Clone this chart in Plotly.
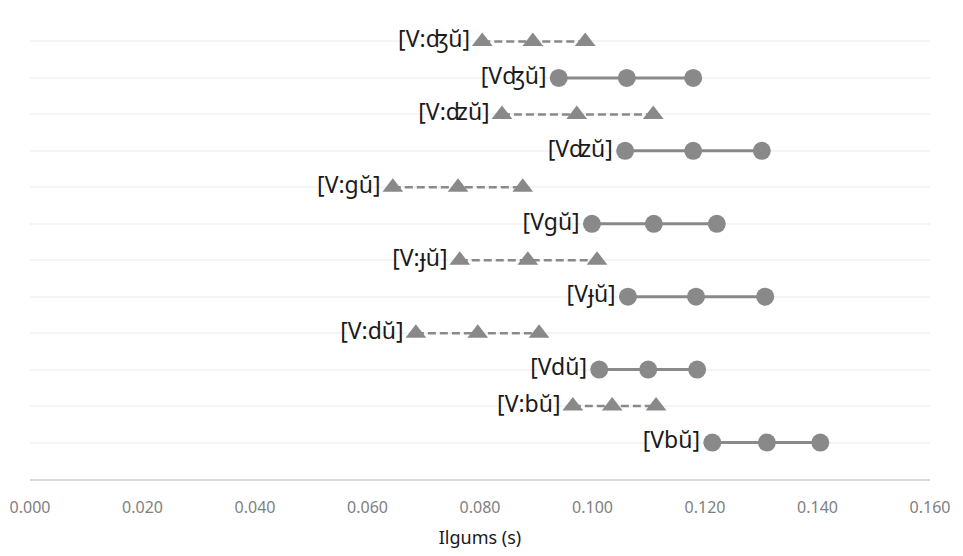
import plotly.graph_objects as go

# Duration (s) per sound context: three points (low, mid, high) per row
labels = ["[Vbŭ]", "[V:bŭ]", "[Vdŭ]", "[V:dŭ]", "[Vɟŭ]", "[V:ɟŭ]",
          "[Vgŭ]", "[V:gŭ]", "[Vʣŭ]", "[V:ʣŭ]", "[Vʤŭ]", "[V:ʤŭ]"]
rows = [1, 2, 3, 4, 5, 6, 7, 8, 9, 10, 11, 12]
low = [0.1213, 0.0965, 0.1012, 0.0686, 0.1063, 0.0764,
       0.0999, 0.0645, 0.1058, 0.0839, 0.0940, 0.0804]
mid = [0.1310, 0.1035, 0.1099, 0.0796, 0.1184, 0.0885,
       0.1109, 0.0761, 0.1179, 0.0972, 0.1061, 0.0894]
high = [0.1405, 0.1113, 0.1186, 0.0905, 0.1307, 0.1008,
        0.1221, 0.0876, 0.1301, 0.1108, 0.1179, 0.0987]

x_ticks = [0.0, 0.02, 0.04, 0.06, 0.08, 0.10, 0.12, 0.14, 0.16]

GREY = "#898989"
LABEL_FONT = dict(family="Noto Sans, DejaVu Sans", size=23, color="#1a1a1a")

fig = go.Figure()
for lab, r, a, b, c in zip(labels, rows, low, mid, high):
    long_vowel = ":" in lab
    fig.add_trace(go.Scatter(
        x=[a, b, c], y=[r, r, r],
        mode="lines+markers+text",
        text=[lab, "", ""],
        textposition="middle left",
        textfont=LABEL_FONT,
        line=dict(color=GREY, width=2.5 if long_vowel else 3,
                  dash="8px,4px" if long_vowel else "solid"),
        marker=dict(symbol="triangle-up" if long_vowel else "circle",
                    size=18, color=GREY),
        showlegend=False, cliponaxis=False,
    ))

fig.update_layout(
    width=963, height=556,
    margin=dict(l=30, r=33, t=5, b=77),
    paper_bgcolor="white", plot_bgcolor="white",
    xaxis=dict(
        range=[0, 0.16], tickvals=x_ticks, tickformat=".3f",
        showgrid=False, zeroline=False,
        showline=True, linecolor="#d9d9d9", linewidth=1.5,
        ticks="", ticklabelstandoff=13,
        tickfont=dict(family="Noto Sans, DejaVu Sans", size=16, color="#7f7f7f"),
        title=dict(text="Ilgums (s)", standoff=14,
                   font=dict(family="Noto Sans, DejaVu Sans", size=18, color="#1a1a1a")),
    ),
    yaxis=dict(
        range=[0, 13], dtick=1, showticklabels=False,
        showgrid=True, gridcolor="#f4f4f4", gridwidth=1.5,
        zeroline=False, ticks="",
    ),
)

fig.write_html("out.html")
